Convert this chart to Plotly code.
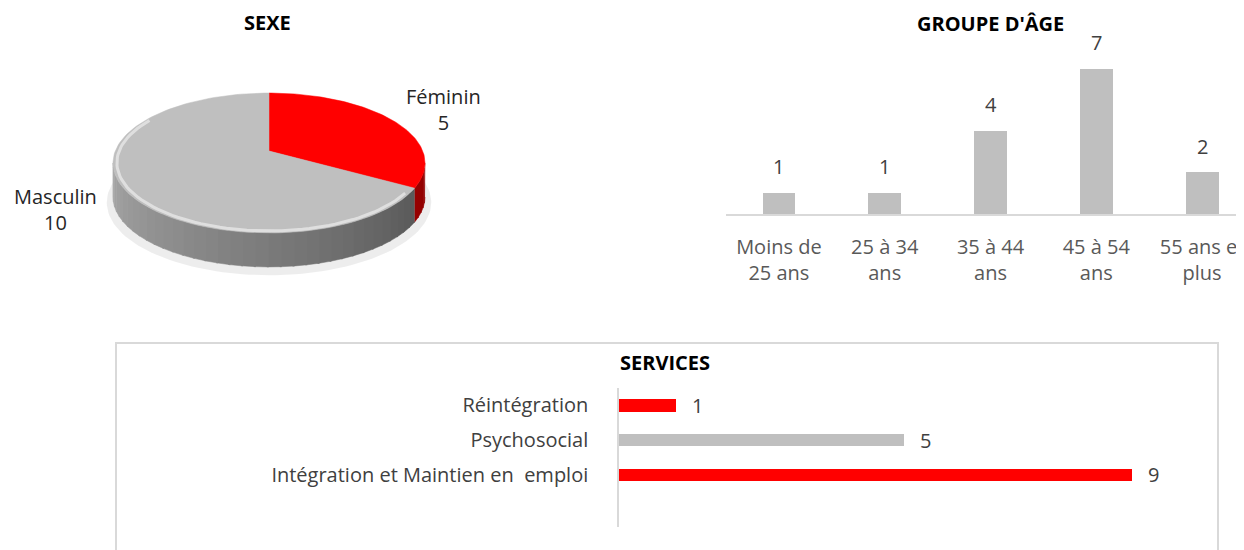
import numpy as np
import plotly.graph_objects as go

# ---------------- data ----------------
sexe_labels = ["Féminin", "Masculin"]
sexe_values = [5, 10]
sexe_colors = ["#ff0000", "#bfbfbf"]
sexe_side_colors = [("#c80000", "#900000"), ("#a8a8a8", "#4d4d4d")]

age_categories = ["Moins de 25 ans", "25 à 34 ans", "35 à 44 ans", "45 à 54 ans", "55 ans et plus"]
age_tick_labels = ["Moins de<br>25 ans", "25 à 34<br>ans", "35 à 44<br>ans", "45 à 54<br>ans", "55 ans et<br>plus"]
age_values = [1, 1, 4, 7, 2]

services_categories = ["Intégration et Maintien en\u00a0 emploi", "Psychosocial", "Réintégration"]
services_values = [9, 5, 1]
services_colors = ["#ff0000", "#bfbfbf", "#ff0000"]

W, H = 1244, 550
OFF = 8            # page body margin: the figure starts 8px into the window
FONT = "Open Sans"
GRID = "#d9d9d9"


def PX(px):   # window x pixel -> paper
    return (px - OFF) / W


def PY(py):   # window y pixel -> paper
    return 1 - (py - OFF) / H


fig = go.Figure()

# ---------------- pseudo-3D pie (SEXE) on a pixel-unit axis ----------------
VX, VY = 269, 151          # apex of the slices (window pixels)
RA, RB, K = 153.7, 67.9, 0.1714   # projected radii and perspective factor
DEPTH = 34


def rim(t_deg, dy=0.0, s=1.0):
    t = np.radians(t_deg)
    w = 1 + K * np.cos(t)
    return VX + s * RA * np.sin(t) / w, VY + dy - s * RB * np.cos(t) / w


def hex2rgb(h):
    h = h.lstrip("#")
    return np.array([int(h[i:i + 2], 16) for i in (0, 2, 4)], dtype=float)


def mix(c0, c1, f):
    c = hex2rgb(c0) * (1 - f) + hex2rgb(c1) * f
    return "rgb(%d,%d,%d)" % tuple(c.round())


# soft shadow
ts = np.linspace(0, 360, 181)
sx, sy = rim(ts, dy=DEPTH + 5, s=1.04)
fig.add_trace(go.Scatter(x=sx, y=sy, fill="toself", mode="lines", line=dict(width=0),
                         fillcolor="rgba(0,0,0,0.07)", xaxis="x3", yaxis="y3",
                         hoverinfo="skip", showlegend=False))

total = sum(sexe_values)
starts = np.cumsum([0] + sexe_values[:-1]) / total * 360
ends = np.cumsum(sexe_values) / total * 360

SIDE_LO = np.degrees(np.arccos(-K))        # right silhouette
SIDE_HI = 360 - SIDE_LO                    # left silhouette

for s0, s1, (c_light, c_dark) in zip(starts, ends, sexe_side_colors):
    lo, hi = max(s0, SIDE_LO), min(s1, SIDE_HI)
    if hi <= lo:
        continue
    n = max(int((hi - lo) / 4), 1)
    edges = np.linspace(lo, hi, n + 1)
    for i in range(n):
        tt = np.linspace(edges[i], edges[i + 1] + 0.6 if i < n - 1 else edges[i + 1], 6)
        x1, y1 = rim(tt)
        x2, y2 = rim(tt[::-1], dy=DEPTH)
        f = (SIDE_HI - (edges[i] + edges[i + 1]) / 2) / (SIDE_HI - SIDE_LO)
        col = mix(c_light, c_dark, f)
        fig.add_trace(go.Scatter(x=np.r_[x1, x2], y=np.r_[y1, y2], fill="toself", mode="lines",
                                 line=dict(width=0.5, color=col), fillcolor=col,
                                 xaxis="x3", yaxis="y3", hoverinfo="skip", showlegend=False))

# top faces
for s0, s1, col, lab, val in zip(starts, ends, sexe_colors, sexe_labels, sexe_values):
    tt = np.linspace(s0, s1, 120)
    ax_, ay_ = rim(tt)
    fig.add_trace(go.Scatter(x=np.r_[VX, ax_, VX], y=np.r_[VY, ay_, VY], fill="toself", mode="lines",
                             line=dict(width=0.5, color=col), fillcolor=col, name=lab,
                             xaxis="x3", yaxis="y3", hovertemplate=f"{lab}: {val}<extra></extra>",
                             showlegend=False))

# bevel highlight on the front edge of the grey top face
tt = np.linspace(max(ends[0] + 4, 125), 300, 80)
rx, ry = rim(tt, s=0.975)
fig.add_trace(go.Scatter(x=rx, y=ry, mode="lines", line=dict(width=3, color="rgba(255,255,255,0.5)"),
                         xaxis="x3", yaxis="y3", hoverinfo="skip", showlegend=False))

annotations = []
pie_label_pos = {"Féminin": (443, 109), "Masculin": (55, 209)}
for lab, val in zip(sexe_labels, sexe_values):
    px, py = pie_label_pos[lab]
    annotations.append(dict(x=px, y=py, xref="x3", yref="y3", text=f"{lab}<br>{val}",
                            showarrow=False, font=dict(family=FONT, size=20, color="#262626"),
                            xanchor="center", yanchor="middle"))

# ---------------- GROUPE D'ÂGE (vertical bars) ----------------
fig.add_trace(go.Bar(x=age_categories, y=age_values, marker=dict(color="#bfbfbf", line=dict(width=0)),
                     width=0.31, xaxis="x", yaxis="y", showlegend=False,
                     hovertemplate="%{x}: %{y}<extra></extra>"))
for c, v in zip(age_categories, age_values):
    annotations.append(dict(x=c, y=v, xref="x", yref="y", text=str(v), showarrow=False,
                            yanchor="bottom", yshift=11, font=dict(family=FONT, size=20, color="#404040")))

# ---------------- SERVICES (horizontal bars) ----------------
fig.add_trace(go.Bar(y=services_categories, x=services_values, orientation="h",
                     marker=dict(color=services_colors, line=dict(width=0)), width=0.36,
                     xaxis="x2", yaxis="y2", showlegend=False,
                     hovertemplate="%{y}: %{x}<extra></extra>"))
for c, v in zip(services_categories, services_values):
    annotations.append(dict(x=v, y=c, xref="x2", yref="y2", text=str(v), showarrow=False,
                            xanchor="center", xshift=21, font=dict(family=FONT, size=20, color="#404040")))

# titles
for txt, px, py in [("SEXE", 267, 23), ("GROUPE D'ÂGE", 990, 24), ("SERVICES", 665, 362)]:
    annotations.append(dict(x=PX(px), y=PY(py), xref="paper", yref="paper", text=f"<b>{txt}</b>",
                            showarrow=False, xanchor="center", yanchor="middle",
                            font=dict(family=FONT, size=20, color="#000000")))

AGE_STEP = 105.8   # pixels per category in the age chart
age_x0 = 726
age_span = (W + OFF - age_x0) / AGE_STEP

fig.update_layout(
    width=W, height=H, margin=dict(l=0, r=0, t=0, b=0),
    paper_bgcolor="white", plot_bgcolor="white",
    font=dict(family=FONT, size=20, color="#404040"),
    bargap=0,
    annotations=annotations,
    # age chart
    xaxis=dict(domain=[PX(age_x0), 1.0], type="category", range=[-0.5, -0.5 + age_span],
               tickvals=age_categories, ticktext=age_tick_labels,
               showline=True, linecolor=GRID, linewidth=1.5, showgrid=False, zeroline=False,
               ticks="", ticklabelstandoff=14, tickfont=dict(family=FONT, size=20, color="#595959"),
               fixedrange=True),
    yaxis=dict(domain=[PY(214), PY(48.4)], range=[0, 8], visible=False, fixedrange=True),
    # services chart
    xaxis2=dict(domain=[PX(619), PX(1189)], range=[0, 10], visible=False, anchor="y2", fixedrange=True),
    yaxis2=dict(domain=[PY(527), PY(388)], type="category", categoryorder="array",
                categoryarray=services_categories, range=[-1.5, 2.5], anchor="x2",
                showline=True, linecolor=GRID, linewidth=1.5, showgrid=False, zeroline=False,
                ticks="", ticklabelstandoff=25, tickfont=dict(family=FONT, size=20, color="#404040"),
                fixedrange=True),
    # pie canvas (units = window pixels)
    xaxis3=dict(domain=[0, 560 / W], range=[OFF, 560 + OFF], visible=False, anchor="y3", fixedrange=True),
    yaxis3=dict(domain=[1 - 300 / H, 1.0], range=[300 + OFF, OFF], visible=False, anchor="x3",
                fixedrange=True),
    shapes=[dict(type="rect", xref="paper", yref="paper", x0=PX(116), x1=PX(1218),
                 y0=-0.1, y1=PY(343), line=dict(color=GRID, width=2), fillcolor="rgba(0,0,0,0)",
                 layer="below")],
)

fig.write_html("out.html")
